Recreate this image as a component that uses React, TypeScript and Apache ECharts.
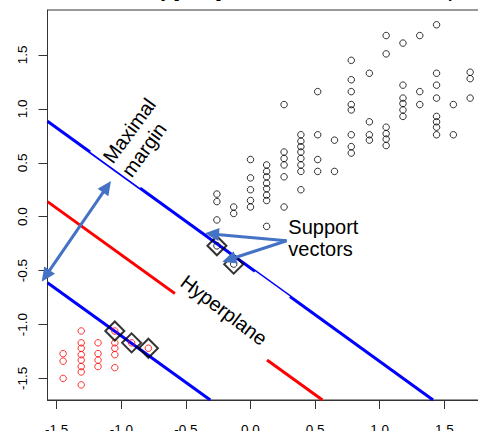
import React, { useEffect, useRef } from "react";
import * as echarts from "echarts";

const FONT = '"Liberation Sans", Arial, Helvetica, sans-serif';

const xTicks = [-1.5, -1.0, -0.5, 0.0, 0.5, 1.0, 1.5];
const yTicks = [-1.5, -1.0, -0.5, 0.0, 0.5, 1.0, 1.5];

// Class +1 (black open circles)
const classPositive: number[][] = [
  [-0.26, 0.21], [-0.26, 0.14], [-0.26, -0.03],
  [-0.13, 0.09], [-0.13, 0.03],
  [0.0, 0.53], [0.0, 0.36], [0.0, 0.25], [0.0, 0.15], [0.0, 0.09],
  [0.125, 0.48], [0.125, 0.42], [0.125, 0.37], [0.125, 0.31], [0.125, 0.26], [0.125, 0.2], [0.125, 0.15], [0.125, -0.09],
  [0.26, 1.04], [0.26, 0.6], [0.26, 0.54], [0.26, 0.48], [0.26, 0.37], [0.26, 0.09],
  [0.39, 0.76], [0.39, 0.7], [0.39, 0.65], [0.39, 0.6], [0.39, 0.54], [0.39, 0.48], [0.39, 0.42], [0.39, 0.25],
  [0.52, 1.16], [0.52, 0.76], [0.52, 0.53], [0.52, 0.42],
  [0.65, 0.71], [0.65, 0.42],
  [0.78, 1.45], [0.78, 1.27], [0.78, 1.16], [0.78, 1.04], [0.78, 0.99], [0.78, 0.76], [0.78, 0.65], [0.78, 0.59],
  [0.92, 1.33], [0.92, 0.88], [0.92, 0.76], [0.92, 0.71],
  [1.05, 1.68], [1.05, 1.51], [1.05, 0.83], [1.05, 0.77], [1.05, 0.72], [1.05, 0.66],
  [1.18, 1.61], [1.18, 1.22], [1.18, 1.1], [1.18, 1.05], [1.18, 0.99], [1.18, 0.93],
  [1.31, 1.68], [1.31, 1.16], [1.31, 1.04],
  [1.44, 1.78], [1.44, 1.33], [1.44, 1.22], [1.44, 1.1], [1.44, 0.93], [1.44, 0.88], [1.44, 0.83], [1.44, 0.76],
  [1.57, 1.04], [1.57, 0.76],
  [1.7, 1.34], [1.7, 1.28], [1.7, 1.1],
  [-0.26, -0.27], [-0.13, -0.44],
];

// Class -1 (red open circles)
const classNegative: number[][] = [
  [-1.45, -1.27], [-1.45, -1.34], [-1.45, -1.5],
  [-1.31, -1.06], [-1.31, -1.17], [-1.31, -1.22], [-1.31, -1.28], [-1.31, -1.33], [-1.31, -1.39], [-1.31, -1.44], [-1.31, -1.56],
  [-1.18, -1.17], [-1.18, -1.27], [-1.18, -1.33], [-1.18, -1.39],
  [-1.05, -1.17], [-1.05, -1.22], [-1.05, -1.28], [-1.05, -1.4],
  [-1.05, -1.06], [-0.92, -1.17], [-0.79, -1.22],
];

const supportVectors: number[][] = [
  [-0.26, -0.27], [-0.13, -0.44], [-1.05, -1.06], [-0.92, -1.17], [-0.79, -1.22],
];

// Lines (end points at the plot edges)
const upperMargin: number[][] = [[-1.571, 0.886], [1.413, -1.7]];
const hyperplane: number[][] = [[-1.571, 0.14], [0.557, -1.7]];
const lowerMargin: number[][] = [[-1.571, -0.613], [-0.311, -1.7]];

const X_MIN = -1.571, X_MAX = 1.7995, Y_MIN = -1.7, Y_MAX = 1.917;

function lineAt(line: number[][], x: number) {
  const [a, b] = line;
  return a[1] + ((b[1] - a[1]) * (x - a[0])) / (b[0] - a[0]);
}

export default function App() {
  const ref = useRef<HTMLDivElement>(null);
  useEffect(() => {
    if (!ref.current) return;
    const chart = echarts.init(ref.current, null, { renderer: "svg" });
    const lineSeries = (data: number[][], color: string) => ({
      type: "line",
      data,
      symbol: "none",
      showSymbol: false,
      clip: true,
      silent: true,
      lineStyle: { color, width: 3 },
      z: 2,
    });
    const axisLine = { show: true, onZero: false, lineStyle: { color: "#333", width: 1 } };
    const tickStyle = { show: true, inside: false, length: 9, lineStyle: { color: "#333", width: 1 } };
    chart.setOption({
      animation: false,
      backgroundColor: "#fff",
      grid: {
        left: 47.5, right: 5, top: 10, bottom: 31,
        outerBoundsMode: "none", containLabel: false,
        show: true, borderColor: "#333", borderWidth: 1, backgroundColor: "transparent",
      },
      xAxis: {
        type: "value",
        min: X_MIN, max: X_MAX,
        axisLine,
        splitLine: { show: false },
        axisTick: { ...tickStyle, customValues: xTicks },
        axisLabel: {
          customValues: xTicks,
          formatter: (v: number) => v.toFixed(1),
          fontSize: 13.5, fontFamily: FONT, color: "#000", margin: 22,
        },
      },
      yAxis: {
        type: "value",
        min: Y_MIN, max: Y_MAX,
        axisLine,
        splitLine: { show: false },
        axisTick: { ...tickStyle, customValues: yTicks },
        axisLabel: {
          customValues: yTicks,
          rotate: 90,
          formatter: (v: number) => v.toFixed(1),
          fontSize: 13.5, fontFamily: FONT, color: "#000", margin: 18,
        },
      },
      series: [
        lineSeries(upperMargin, "#0000ff"),
        lineSeries(hyperplane, "#ff0000"),
        lineSeries(lowerMargin, "#0000ff"),
        {
          type: "scatter", data: classPositive, symbol: "circle", symbolSize: 6.5, silent: true, z: 3,
          itemStyle: { color: "transparent", borderColor: "#000", borderWidth: 1 },
        },
        {
          type: "scatter", data: classNegative, symbol: "circle", symbolSize: 6.5, silent: true, z: 3,
          itemStyle: { color: "transparent", borderColor: "#ff0000", borderWidth: 1 },
        },
        {
          type: "scatter", data: supportVectors, symbol: "diamond", symbolSize: 19, silent: true, z: 4,
          itemStyle: { color: "transparent", borderColor: "#000", borderWidth: 2 },
        },
      ],
    });

    const px = (p: number[]) => chart.convertToPixel({ gridIndex: 0 }, p) as number[];
    const strip = (line: number[][], x0: number, x1: number, o0: number, o1: number) => {
      const p0 = px([x0, lineAt(line, x0)]);
      const p1 = px([x1, lineAt(line, x1)]);
      const dx = p1[0] - p0[0], dy = p1[1] - p0[1];
      const L = Math.hypot(dx, dy);
      const nx = -dy / L, ny = dx / L;
      return {
        type: "polygon", z: 50, silent: true,
        shape: {
          points: [
            [p0[0] + o0 * nx, p0[1] + o0 * ny],
            [p1[0] + o0 * nx, p1[1] + o0 * ny],
            [p1[0] + o1 * nx, p1[1] + o1 * ny],
            [p0[0] + o1 * nx, p0[1] + o1 * ny],
          ],
        },
        style: { fill: "#ffffff" },
      };
    };
    const ARROW = "#4472c4";
    const arrow = (fromD: number[], toD: number[], both: boolean) => {
      const a = px(fromD), b = px(toD);
      const dx = b[0] - a[0], dy = b[1] - a[1];
      const L = Math.hypot(dx, dy);
      const ux = dx / L, uy = dy / L;
      const hl = 14, hw = 6.5;
      const head = (tip: number[], sx: number, sy: number) => ({
        type: "polygon", z: 120, silent: true,
        shape: {
          points: [
            tip,
            [tip[0] - sx * hl - sy * hw, tip[1] - sy * hl + sx * hw],
            [tip[0] - sx * hl + sy * hw, tip[1] - sy * hl - sx * hw],
          ],
        },
        style: { fill: ARROW },
      });
      const start = both ? [a[0] + ux * (hl - 2), a[1] + uy * (hl - 2)] : a;
      const end = [b[0] - ux * (hl - 2), b[1] - uy * (hl - 2)];
      const els: any[] = [
        {
          type: "line", z: 110, silent: true,
          shape: { x1: start[0], y1: start[1], x2: end[0], y2: end[1] },
          style: { stroke: ARROW, lineWidth: 3 },
        },
        head(b, ux, uy),
      ];
      if (both) els.push(head(a, -ux, -uy));
      return els;
    };

    const deg = Math.PI / 180;
    const mmAnchor = px([-1.049, lineAt(upperMargin, -1.049)]);
    const mmU = [Math.cos(54 * deg), -Math.sin(54 * deg)];
    const hpCenter = px([-0.205, -0.866]);
    const svAnchor = px([0.293, -0.199]);

    const elements: any[] = [
      strip(hyperplane, -0.585, 0.128, -3, 3),
      strip(upperMargin, 0.035, 0.306, 0, 2),
      strip(upperMargin, -1.242, -0.855, -3, -0.2),
      {
        type: "text", z: 100, silent: true,
        x: mmAnchor[0] + 3 * mmU[0], y: mmAnchor[1] + 3 * mmU[1], rotation: 54 * deg,
        style: {
          text: "Maximal\nmargin", fill: "#000", fontSize: 20, fontFamily: FONT,
          align: "left", verticalAlign: "middle", lineHeight: 23,
        },
      },
      {
        type: "text", z: 100, silent: true,
        x: hpCenter[0], y: hpCenter[1], rotation: -37 * deg,
        style: {
          text: "Hyperplane", fill: "#000", fontSize: 20, fontFamily: FONT,
          align: "center", verticalAlign: "middle",
        },
      },
      {
        type: "text", z: 100, silent: true,
        x: svAnchor[0], y: svAnchor[1],
        style: {
          text: "Support\nvectors", fill: "#000", fontSize: 20, fontFamily: FONT,
          align: "left", verticalAlign: "middle", lineHeight: 22,
        },
      },
      {
        type: "text", z: 100, silent: true,
        x: 143, y: -8,
        style: {
          text: "Toy [C=10] linear SVM classifier decision plot", fill: "#000",
          fontSize: 15.5, fontWeight: "bold", fontFamily: FONT,
          align: "left", verticalAlign: "middle",
        },
      },
      ...arrow([-1.616, -0.603], [-1.08, 0.331], true),
      ...arrow([0.28, -0.223], [-0.352, -0.154], false),
      ...arrow([0.28, -0.223], [-0.218, -0.417], false),
    ];
    chart.setOption({ graphic: elements });
    return () => chart.dispose();
  }, []);
  return (
    <div
      ref={ref}
      style={{ position: "fixed", left: 0, top: 0, width: 488, height: 431 }}
    />
  );
}
